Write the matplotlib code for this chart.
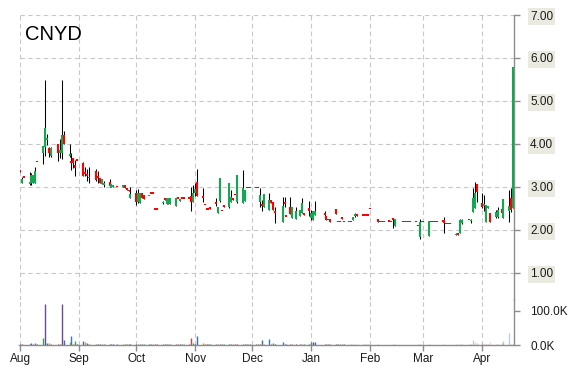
import matplotlib
matplotlib.use('Agg')
import matplotlib.pyplot as plt
import matplotlib.dates as mdates
from matplotlib.ticker import FixedLocator, FormatStrFormatter, FuncFormatter
import pandas as pd
import numpy as np

plt.rcParams['font.family'] = ['Liberation Sans', 'DejaVu Sans']

#********** Data **********#
ticker = 'CNYD'

dates = [
    # Aug
    '2018-08-01', '2018-08-02', '2018-08-03', '2018-08-06', '2018-08-07', '2018-08-08', '2018-08-09', '2018-08-10',
    '2018-08-13', '2018-08-14', '2018-08-15', '2018-08-16', '2018-08-17', '2018-08-21', '2018-08-22', '2018-08-23',
    '2018-08-24', '2018-08-27', '2018-08-28', '2018-08-29', '2018-08-30', '2018-08-31',
    # Sep
    '2018-09-03', '2018-09-04', '2018-09-05', '2018-09-06', '2018-09-10', '2018-09-11', '2018-09-12', '2018-09-13',
    '2018-09-14', '2018-09-17', '2018-09-18', '2018-09-19', '2018-09-21', '2018-09-24', '2018-09-25', '2018-09-26',
    '2018-09-27', '2018-09-28',
    # Oct
    '2018-10-01', '2018-10-02', '2018-10-03', '2018-10-04', '2018-10-05', '2018-10-08', '2018-10-09', '2018-10-10',
    '2018-10-11', '2018-10-12', '2018-10-15', '2018-10-16', '2018-10-17', '2018-10-18', '2018-10-19', '2018-10-22',
    '2018-10-23', '2018-10-24', '2018-10-25', '2018-10-26', '2018-10-29', '2018-10-30', '2018-10-31',
    # Nov
    '2018-11-01', '2018-11-02', '2018-11-05', '2018-11-06', '2018-11-07', '2018-11-08', '2018-11-09', '2018-11-12',
    '2018-11-13', '2018-11-14', '2018-11-15', '2018-11-16', '2018-11-19', '2018-11-20', '2018-11-21', '2018-11-22',
    '2018-11-23', '2018-11-26', '2018-11-27', '2018-11-28', '2018-11-29', '2018-11-30',
    # Dec
    '2018-12-03', '2018-12-04', '2018-12-05', '2018-12-06', '2018-12-07', '2018-12-10', '2018-12-11', '2018-12-12',
    '2018-12-13', '2018-12-17', '2018-12-18', '2018-12-19', '2018-12-21', '2018-12-22', '2018-12-24', '2018-12-26',
    '2018-12-27', '2018-12-28', '2018-12-31',
    # Jan
    '2019-01-01', '2019-01-02', '2019-01-03', '2019-01-08', '2019-01-09', '2019-01-10', '2019-01-11', '2019-01-14',
    '2019-01-15', '2019-01-16', '2019-01-17', '2019-01-18', '2019-01-21', '2019-01-22', '2019-01-23', '2019-01-24',
    '2019-01-25', '2019-01-28', '2019-01-29', '2019-01-30', '2019-01-31',
    # Feb
    '2019-02-01', '2019-02-05', '2019-02-06', '2019-02-07', '2019-02-08', '2019-02-11', '2019-02-12', '2019-02-13',
    '2019-02-14', '2019-02-18', '2019-02-19', '2019-02-20', '2019-02-21', '2019-02-22', '2019-02-25', '2019-02-26',
    '2019-02-27', '2019-02-28',
    # Mar
    '2019-03-01', '2019-03-04', '2019-03-05', '2019-03-06', '2019-03-07', '2019-03-08', '2019-03-11', '2019-03-12',
    '2019-03-13', '2019-03-14', '2019-03-15', '2019-03-18', '2019-03-19', '2019-03-20', '2019-03-21', '2019-03-25',
    '2019-03-26', '2019-03-27', '2019-03-28', '2019-03-29',
    # Apr
    '2019-04-01', '2019-04-02', '2019-04-03', '2019-04-04', '2019-04-05', '2019-04-08', '2019-04-09', '2019-04-11',
    '2019-04-12', '2019-04-15', '2019-04-16', '2019-04-17',
]

opens = [
    3.40, 3.10, 3.21, 3.08, 3.09, 3.10, 3.10, 3.58, 3.80, 3.93, 4.10, 3.90, 3.72, 4.00, 3.80, 3.79, 4.20, 3.72, 3.60, 3.67, 3.50, 3.61,
    3.56, 3.35, 3.30, 3.20, 3.38, 3.25, 3.20, 3.07, 3.05, 3.12, 3.01, 3.00, 2.99, 2.99, 3.05, 2.97, 2.93, 2.74,
    2.85, 2.66, 2.62, 2.87, 2.81, 2.78, 2.84, 2.84, 2.47, 2.47, 2.62, 2.75, 2.60, 2.60, 2.60, 2.56, 2.72, 2.68, 2.72, 2.72, 2.72, 2.80, 2.64,
    2.85, 3.11, 2.80, 2.57, 2.47, 2.47, 2.53, 2.65, 2.40, 2.68, 2.44, 2.58, 2.54, 2.66, 2.74, 2.81, 2.65, 2.62, 2.68, 2.97, 2.97, 2.97,
    2.97, 2.97, 2.64, 2.60, 2.54, 2.47, 2.70, 2.64, 2.45, 2.19, 2.65, 2.31, 2.53, 2.27, 2.25, 2.33, 2.39, 2.39, 2.50,
    2.28, 2.23, 2.35, 2.38, 2.33, 2.23, 2.25, 2.48, 2.18, 2.18, 2.30, 2.18, 2.18, 2.18, 2.23, 2.32, 2.37, 2.33, 2.33, 2.33, 2.33,
    2.48, 2.25, 2.18, 2.18, 2.18, 2.19, 2.18, 2.27, 2.08, 2.18, 2.18, 2.18, 2.18, 2.18, 2.18, 2.09, 1.83, 2.18,
    2.18, 1.87, 2.18, 2.18, 2.18, 2.18, 2.19, 2.22, 2.13, 2.13, 2.13, 1.88, 1.91, 1.94, 2.16, 2.22, 2.20, 2.41, 2.50, 3.07,
    2.62, 2.55, 2.19, 2.52, 2.39, 2.30, 2.31, 2.49, 2.27, 2.45, 2.74, 2.50,
]

highs = [
    3.40, 3.23, 3.21, 3.35, 3.33, 3.28, 3.47, 3.58, 3.95, 5.49, 4.23, 3.93, 3.93, 4.00, 4.12, 5.49, 4.30, 4.00, 3.78, 3.67, 3.63, 3.61,
    3.57, 3.47, 3.42, 3.47, 3.42, 3.37, 3.20, 3.18, 3.14, 3.19, 3.06, 3.02, 2.99, 3.05, 3.05, 2.97, 2.93, 2.99,
    2.93, 2.95, 2.85, 2.87, 2.81, 2.80, 2.84, 2.84, 2.47, 2.47, 2.67, 2.75, 2.75, 2.75, 2.75, 2.75, 2.72, 2.72, 2.72, 2.72, 2.72, 2.99, 3.05,
    3.09, 3.42, 2.97, 2.57, 2.47, 2.47, 2.53, 2.74, 2.54, 3.20, 2.44, 2.58, 3.09, 2.93, 2.74, 2.81, 3.28, 3.40, 2.93, 2.97, 2.97, 2.97,
    2.97, 2.97, 2.97, 2.70, 2.84, 2.85, 2.70, 2.64, 2.53, 2.76, 2.77, 2.31, 2.76, 2.54, 2.54, 2.47, 2.74, 2.39, 2.68,
    2.47, 2.43, 2.68, 2.43, 2.33, 2.23, 2.25, 2.48, 2.18, 2.18, 2.30, 2.18, 2.18, 2.18, 2.29, 2.39, 2.37, 2.33, 2.33, 2.33, 2.33,
    2.48, 2.25, 2.18, 2.18, 2.18, 2.19, 2.18, 2.27, 2.25, 2.18, 2.18, 2.18, 2.18, 2.18, 2.18, 2.09, 2.25, 2.18,
    2.18, 2.21, 2.18, 2.18, 2.18, 2.18, 2.19, 2.31, 2.13, 2.13, 2.13, 1.93, 1.91, 2.25, 2.25, 2.22, 2.26, 2.97, 3.11, 3.07,
    2.85, 2.81, 2.58, 2.55, 2.39, 2.47, 2.54, 2.49, 2.72, 2.93, 2.98, 5.79,
]

lows = [
    3.35, 3.09, 3.21, 3.05, 3.05, 3.10, 3.09, 3.58, 3.53, 3.72, 3.98, 3.70, 3.70, 3.61, 3.67, 3.65, 4.00, 3.69, 3.40, 3.45, 3.26, 3.61,
    3.26, 3.26, 3.14, 3.09, 3.14, 3.10, 3.09, 3.07, 2.99, 3.01, 3.01, 3.00, 2.99, 2.99, 2.97, 2.93, 2.90, 2.74,
    2.57, 2.62, 2.62, 2.74, 2.71, 2.78, 2.84, 2.84, 2.47, 2.47, 2.60, 2.70, 2.60, 2.60, 2.60, 2.56, 2.72, 2.68, 2.72, 2.72, 2.72, 2.45, 2.64,
    2.79, 2.79, 2.66, 2.57, 2.47, 2.47, 2.48, 2.56, 2.40, 2.66, 2.44, 2.53, 2.52, 2.66, 2.70, 2.81, 2.63, 2.62, 2.68, 2.97, 2.97, 2.97,
    2.97, 2.97, 2.53, 2.43, 2.54, 2.47, 2.62, 2.47, 2.17, 2.19, 2.53, 2.31, 2.36, 2.27, 2.25, 2.33, 2.39, 2.35, 2.33,
    2.23, 2.23, 2.35, 2.30, 2.23, 2.23, 2.19, 2.37, 2.18, 2.18, 2.26, 2.18, 2.18, 2.18, 2.23, 2.31, 2.33, 2.33, 2.33, 2.33, 2.33,
    2.48, 2.19, 2.18, 2.18, 2.18, 2.19, 2.18, 2.05, 2.08, 2.18, 2.18, 2.18, 2.18, 2.18, 2.18, 2.09, 1.79, 2.18,
    2.18, 1.87, 2.18, 2.18, 2.18, 2.18, 2.19, 1.94, 2.13, 2.13, 2.13, 1.88, 1.89, 1.94, 2.14, 2.22, 2.16, 2.41, 2.50, 2.64,
    2.50, 2.43, 2.19, 2.52, 2.19, 2.27, 2.27, 2.39, 2.27, 2.19, 2.42, 2.50,
]

closes = [
    3.35, 3.18, 3.21, 3.12, 3.28, 3.28, 3.36, 3.58, 3.95, 4.37, 4.15, 3.78, 3.90, 3.79, 3.85, 4.21, 4.00, 3.75, 3.55, 3.56, 3.45, 3.61,
    3.26, 3.30, 3.25, 3.24, 3.16, 3.20, 3.09, 3.18, 3.08, 3.02, 3.06, 3.02, 2.99, 3.05, 2.97, 2.93, 2.90, 2.83,
    2.65, 2.85, 2.85, 2.74, 2.71, 2.80, 2.84, 2.84, 2.47, 2.47, 2.65, 2.70, 2.75, 2.75, 2.75, 2.75, 2.72, 2.72, 2.72, 2.72, 2.72, 2.65, 2.85,
    2.95, 2.79, 2.75, 2.57, 2.47, 2.47, 2.48, 2.60, 2.54, 3.20, 2.44, 2.53, 3.09, 2.77, 2.70, 2.81, 3.28, 2.97, 2.93, 2.97, 2.97, 2.97,
    2.97, 2.97, 2.81, 2.55, 2.84, 2.70, 2.62, 2.47, 2.40, 2.56, 2.60, 2.31, 2.36, 2.54, 2.43, 2.47, 2.62, 2.35, 2.45,
    2.40, 2.43, 2.43, 2.35, 2.23, 2.23, 2.19, 2.37, 2.18, 2.18, 2.26, 2.18, 2.18, 2.18, 2.29, 2.36, 2.33, 2.33, 2.33, 2.33, 2.33,
    2.48, 2.19, 2.18, 2.18, 2.18, 2.19, 2.18, 2.22, 2.25, 2.18, 2.18, 2.18, 2.18, 2.18, 2.18, 2.09, 2.19, 2.18,
    2.18, 2.21, 2.18, 2.18, 2.18, 2.18, 2.19, 2.16, 2.13, 2.13, 2.13, 1.91, 1.89, 2.22, 2.22, 2.22, 2.23, 2.74, 2.85, 2.89,
    2.54, 2.60, 2.58, 2.55, 2.19, 2.42, 2.46, 2.39, 2.72, 2.55, 2.47, 5.79,
]

# volume in thousands of shares
volumes_k = [
    3, 3, 1, 4, 5, 4, 6, 2, 20, 120, 5, 6, 4, 3, 4, 120, 15, 10, 25, 4, 13, 2,
    13, 9, 5, 4, 3, 3, 3, 3, 4, 3, 3, 2, 2, 3, 3, 2, 3, 4,
    3, 3, 3, 2, 2, 2, 2, 2, 2, 2, 3, 3, 3, 3, 3, 3, 2, 2, 2, 2, 3, 20, 5,
    3, 26, 7, 2, 2, 2, 3, 3, 3, 4, 2, 3, 3, 3, 3, 2, 3, 4, 3, 2, 2, 2,
    2, 2, 4, 15, 3, 18, 4, 5, 4, 8, 3, 2, 3, 3, 3, 3, 3, 3, 4,
    10, 8, 10, 3, 3, 2, 3, 3, 2, 2, 3, 2, 2, 2, 3, 3, 3, 2, 2, 2, 2,
    2, 2, 1, 1, 1, 1, 1, 3, 3, 1, 1, 1, 1, 1, 1, 2, 3, 1,
    1, 2, 1, 1, 1, 1, 1, 2, 1, 1, 1, 2, 2, 3, 3, 2, 3, 15, 8, 5,
    5, 4, 4, 3, 10, 4, 4, 5, 12, 35, 4, 3,
]

price_ticks = [1, 2, 3, 4, 5, 6, 7]
volume_ticks = [0, 100000]

#********** Styles **********#
UP = '#12a750'
DOWN = '#ff0000'
GRID = '#c8c8c8'
AXIS = '#8c8c8c'
vol_cycle = ['#2f7fb8', '#d0453a', '#36a35a', '#6a4a94', '#3d6fb0', '#e08a2c']

df = pd.DataFrame({'date': pd.to_datetime(dates), 'open': opens, 'high': highs,
                   'low': lows, 'close': closes, 'vol': np.array(volumes_k) * 1000})
x = mdates.date2num(df['date'])

#********** Figure and axes **********#
W, H = 570., 370.
fig = plt.figure(figsize=(W / 100, H / 100), dpi=100)
left, right = 19.5 / W, 513.5 / W
ax = fig.add_axes([left, 1 - 300 / H, right - left, (300 - 15) / H])
axv = fig.add_axes([left, 1 - 345 / H, right - left, (345 - 300) / H], sharex=ax)

#********** Candles **********#
ax.vlines(x, df['low'], df['high'], color='black', lw=0.75, zorder=3)
body_lo = np.minimum(df['open'], df['close'])
body_hi = np.maximum(df['open'], df['close'])
body_hi = np.where(body_hi - body_lo < 0.035, body_lo + 0.035, body_hi)
body_col = [UP if c > o else DOWN for o, c in zip(df['open'], df['close'])]
ax.vlines(x, body_lo, body_hi, colors=body_col, lw=1.5, zorder=4)

#********** Volume **********#
fade_from = pd.Timestamp('2019-01-20')
vcols = []
for i, d in enumerate(df['date']):
    c = matplotlib.colors.to_rgba(vol_cycle[i % len(vol_cycle)])
    if d >= fade_from:
        c = (c[0], c[1], c[2], 0.35)
    vcols.append(c)
axv.vlines(x, 0, df['vol'], colors=vcols, lw=1.0, zorder=3)

#********** Axes styling **********#
x0 = mdates.date2num(pd.Timestamp('2018-08-01')) - 0.3
x1 = mdates.date2num(pd.Timestamp('2019-04-17')) + 0.3
ax.set_xlim(x0, x1)
ax.set_ylim(0.37, 7.0)
axv.set_ylim(0, 132000)

for a in (ax, axv):
    a.set_facecolor('none')
    for s in ('top', 'left', 'bottom'):
        a.spines[s].set_visible(False)
    a.spines['right'].set_color(AXIS)
    a.spines['right'].set_linewidth(1.0)
    a.yaxis.tick_right()
    a.xaxis.grid(True, color=GRID, linestyle=(0, (4, 3)), linewidth=0.8)
axv.spines['bottom'].set_visible(True)
axv.spines['bottom'].set_color(AXIS)
axv.spines['bottom'].set_linewidth(1.0)

ax.yaxis.set_major_locator(FixedLocator(price_ticks))
ax.yaxis.set_major_formatter(FormatStrFormatter('%.2f'))
ax.yaxis.grid(True, color=GRID, linestyle=(0, (4, 3)), linewidth=0.8)
ax.tick_params(axis='y', length=4, width=1, color=AXIS, pad=8, labelsize=8.5, labelcolor='#1a1a1a')
ax.tick_params(axis='x', length=0, labelbottom=False)
for lbl in ax.yaxis.get_ticklabels():
    lbl.set_bbox(dict(facecolor='#ebeae0', edgecolor='none', pad=1.5))

axv.yaxis.set_major_locator(FixedLocator(volume_ticks))
axv.yaxis.set_major_formatter(FuncFormatter(lambda v, p: '%.1fK' % (v / 1000.)))
axv.tick_params(axis='y', length=4, width=1, color=AXIS, pad=8, labelsize=8.5, labelcolor='#1a1a1a')
axv.xaxis.set_major_locator(mdates.MonthLocator())
axv.xaxis.set_major_formatter(mdates.DateFormatter('%b'))
axv.tick_params(axis='x', length=4, width=1, color=AXIS, pad=2, labelsize=8.5, labelcolor='#1a1a1a')

fig.text(25 / W, 1 - 40 / H, ticker, fontsize=14.5, ha='left', va='baseline', color='black')

fig.savefig('out.png', dpi=100)
